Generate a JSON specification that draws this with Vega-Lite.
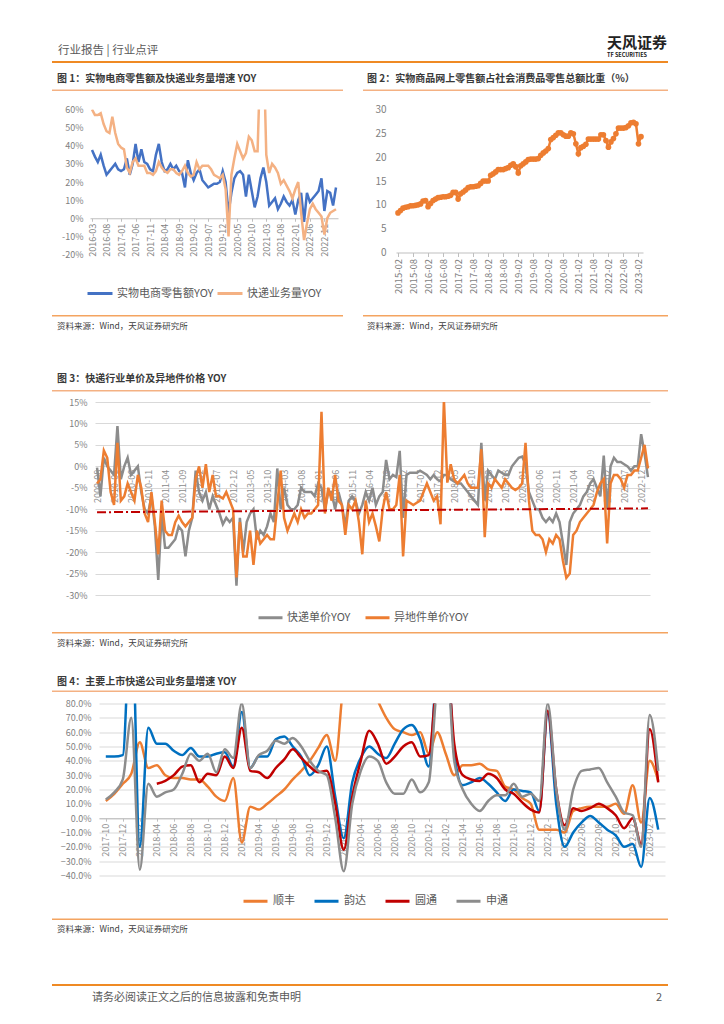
{
"$schema": "https://vega.github.io/schema/vega-lite/v6.json",
"background": "white",
"padding": {"left": 52, "top": 35, "right": 5, "bottom": 5},
"config": {
  "view": {"stroke": null},
  "font": "Noto Sans CJK SC",
  "title": {"font": "Noto Sans CJK SC", "subtitleFont": "Noto Sans CJK SC", "fontWeight": "normal"},
  "axis": {"labelFont": "Noto Sans CJK SC", "labelColor": "#7F7F7F", "labelFontSize": 9},
  "legend": {"labelFont": "Noto Sans CJK SC", "padding": 0}
},
"datasets": {
"c1": [
{"m":"2016-03","ecom":37.6,"exp":60},{"m":"2016-04","ecom":34,"exp":57},{"m":"2016-05","ecom":31,"exp":57},{"m":"2016-06","ecom":35,"exp":58},{"m":"2016-07","ecom":29,"exp":52},{"m":"2016-08","ecom":24,"exp":48},{"m":"2016-09","ecom":26,"exp":47},{"m":"2016-10","ecom":28,"exp":56},{"m":"2016-11","ecom":30,"exp":47},{"m":"2016-12","ecom":27,"exp":41},
{"m":"2017-01","ecom":26,"exp":39},{"m":"2017-02","ecom":27,"exp":38},{"m":"2017-03","ecom":33,"exp":28},{"m":"2017-04","ecom":24,"exp":25},{"m":"2017-05","ecom":30,"exp":31},{"m":"2017-06","ecom":41,"exp":33},{"m":"2017-07","ecom":31,"exp":29},{"m":"2017-08","ecom":38,"exp":29},{"m":"2017-09","ecom":31,"exp":29},{"m":"2017-10","ecom":30,"exp":25},{"m":"2017-11","ecom":27,"exp":25},{"m":"2017-12","ecom":26,"exp":24},
{"m":"2018-01","ecom":35,"exp":26},{"m":"2018-02","ecom":41,"exp":31},{"m":"2018-03","ecom":31,"exp":28},{"m":"2018-04","ecom":26,"exp":26},{"m":"2018-05","ecom":27,"exp":25},{"m":"2018-06","ecom":30,"exp":27},{"m":"2018-07","ecom":27,"exp":27},{"m":"2018-08","ecom":29,"exp":25},{"m":"2018-09","ecom":26,"exp":24},{"m":"2018-10","ecom":25,"exp":26},{"m":"2018-11","ecom":17,"exp":29},{"m":"2018-12","ecom":32,"exp":25},
{"m":"2019-01","ecom":25,"exp":23},{"m":"2019-02","ecom":21,"exp":24},{"m":"2019-03","ecom":25,"exp":31},{"m":"2019-04","ecom":27,"exp":27},{"m":"2019-05","ecom":21,"exp":29},{"m":"2019-06","ecom":19,"exp":29},{"m":"2019-07","ecom":17,"exp":29},{"m":"2019-08","ecom":18,"exp":27},{"m":"2019-09","ecom":19,"exp":24},{"m":"2019-10","ecom":19,"exp":23},{"m":"2019-11","ecom":20,"exp":22},{"m":"2019-12","ecom":26,"exp":24},
{"m":"2020-01","ecom":20,"exp":16},{"m":"2020-02","ecom":3,"exp":-10},{"m":"2020-03","ecom":14,"exp":24},{"m":"2020-04","ecom":22,"exp":33},{"m":"2020-05","ecom":25,"exp":41},{"m":"2020-06","ecom":26,"exp":37},{"m":"2020-07","ecom":24,"exp":33},{"m":"2020-08","ecom":12,"exp":36},{"m":"2020-09","ecom":24,"exp":45},{"m":"2020-10","ecom":15,"exp":43},{"m":"2020-11","ecom":6,"exp":37},{"m":"2020-12","ecom":12,"exp":37},
{"m":"2021-01","ecom":22,"exp":90},{"m":"2021-02","ecom":28,"exp":100},{"m":"2021-03","ecom":20,"exp":35},{"m":"2021-04","ecom":7,"exp":25},{"m":"2021-05","ecom":9,"exp":30},{"m":"2021-06","ecom":11,"exp":28},{"m":"2021-07","ecom":5,"exp":25},{"m":"2021-08","ecom":8,"exp":19},{"m":"2021-09","ecom":12,"exp":21},{"m":"2021-10","ecom":9,"exp":18},{"m":"2021-11","ecom":7,"exp":15},{"m":"2021-12","ecom":10,"exp":11},
{"m":"2022-01","ecom":2,"exp":16},{"m":"2022-02","ecom":10,"exp":20},{"m":"2022-03","ecom":14,"exp":3},{"m":"2022-04","ecom":-2,"exp":-12},{"m":"2022-05","ecom":14,"exp":-3},{"m":"2022-06","ecom":9,"exp":5},{"m":"2022-07","ecom":11,"exp":8},{"m":"2022-08","ecom":13,"exp":5},{"m":"2022-09","ecom":15,"exp":3},{"m":"2022-10","ecom":22,"exp":1},{"m":"2022-11","ecom":4,"exp":-9},{"m":"2022-12","ecom":15,"exp":0},
{"m":"2023-01","ecom":14,"exp":3},{"m":"2023-02","ecom":7,"exp":4},{"m":"2023-03","ecom":17,"exp":5}
],
"c2": [
{"m":"2015-02","v":8.3},{"m":"2015-03","v":8.8},{"m":"2015-04","v":9.3},{"m":"2015-05","v":9.5},{"m":"2015-06","v":9.6},{"m":"2015-07","v":9.8},{"m":"2015-08","v":9.8},{"m":"2015-09","v":9.9},{"m":"2015-10","v":10.0},{"m":"2015-11","v":10.2},{"m":"2015-12","v":10.8},
{"m":"2016-01","v":10.9},{"m":"2016-02","v":9.6},{"m":"2016-03","v":10.3},{"m":"2016-04","v":10.9},{"m":"2016-05","v":11.2},{"m":"2016-06","v":11.5},{"m":"2016-07","v":11.6},{"m":"2016-08","v":11.7},{"m":"2016-09","v":11.7},{"m":"2016-10","v":11.8},{"m":"2016-11","v":12.0},{"m":"2016-12","v":12.6},
{"m":"2017-01","v":12.6},{"m":"2017-02","v":11.2},{"m":"2017-03","v":12.3},{"m":"2017-04","v":12.7},{"m":"2017-05","v":13.1},{"m":"2017-06","v":13.6},{"m":"2017-07","v":13.8},{"m":"2017-08","v":13.8},{"m":"2017-09","v":13.9},{"m":"2017-10","v":14.0},{"m":"2017-11","v":14.5},{"m":"2017-12","v":15.0},
{"m":"2018-01","v":15.0},{"m":"2018-02","v":15.0},{"m":"2018-03","v":16.2},{"m":"2018-04","v":16.5},{"m":"2018-05","v":16.9},{"m":"2018-06","v":17.4},{"m":"2018-07","v":17.4},{"m":"2018-08","v":17.4},{"m":"2018-09","v":17.6},{"m":"2018-10","v":17.8},{"m":"2018-11","v":18.3},{"m":"2018-12","v":18.6},
{"m":"2019-01","v":18.0},{"m":"2019-02","v":16.7},{"m":"2019-03","v":18.2},{"m":"2019-04","v":18.6},{"m":"2019-05","v":19.0},{"m":"2019-06","v":19.5},{"m":"2019-07","v":19.6},{"m":"2019-08","v":19.6},{"m":"2019-09","v":19.6},{"m":"2019-10","v":19.7},{"m":"2019-11","v":20.4},{"m":"2019-12","v":20.9},
{"m":"2020-01","v":21.3},{"m":"2020-02","v":21.8},{"m":"2020-03","v":23.7},{"m":"2020-04","v":24.1},{"m":"2020-05","v":24.6},{"m":"2020-06","v":25.1},{"m":"2020-07","v":25.1},{"m":"2020-08","v":24.7},{"m":"2020-09","v":24.4},{"m":"2020-10","v":24.4},{"m":"2020-11","v":25.1},{"m":"2020-12","v":24.9},
{"m":"2021-01","v":22.8},{"m":"2021-02","v":20.7},{"m":"2021-03","v":22.0},{"m":"2021-04","v":22.3},{"m":"2021-05","v":22.7},{"m":"2021-06","v":23.8},{"m":"2021-07","v":23.8},{"m":"2021-08","v":23.8},{"m":"2021-09","v":23.8},{"m":"2021-10","v":23.8},{"m":"2021-11","v":24.7},{"m":"2021-12","v":24.7},
{"m":"2022-01","v":23.5},{"m":"2022-02","v":22.1},{"m":"2022-03","v":23.2},{"m":"2022-04","v":23.9},{"m":"2022-05","v":24.9},{"m":"2022-06","v":26.1},{"m":"2022-07","v":26.1},{"m":"2022-08","v":26.1},{"m":"2022-09","v":26.2},{"m":"2022-10","v":26.6},{"m":"2022-11","v":27.2},{"m":"2022-12","v":27.3},
{"m":"2023-01","v":27.0},{"m":"2023-02","v":22.8},{"m":"2023-03","v":24.3}
],
"c3": [
{"m":"2009-08","unit":-0.3,"cross":-4},{"m":"2009-09","unit":-7,"cross":-3},{"m":"2009-10","unit":2,"cross":3.7},{"m":"2009-11","unit":0,"cross":2},{"m":"2009-12","unit":-1,"cross":-6},
{"m":"2010-01","unit":-2,"cross":-9},{"m":"2010-02","unit":9.4,"cross":5.5},{"m":"2010-03","unit":-3,"cross":-8},{"m":"2010-04","unit":0,"cross":-7},{"m":"2010-05","unit":2,"cross":-4},{"m":"2010-06","unit":-2,"cross":-6},{"m":"2010-07","unit":-1,"cross":-8},{"m":"2010-08","unit":0,"cross":-2},{"m":"2010-09","unit":-6,"cross":-5},{"m":"2010-10","unit":-10,"cross":-11},{"m":"2010-11","unit":-11,"cross":-13},{"m":"2010-12","unit":-7,"cross":-6},
{"m":"2011-01","unit":-14,"cross":-13},{"m":"2011-02","unit":-26.5,"cross":-20.5},{"m":"2011-03","unit":-11,"cross":-8},{"m":"2011-04","unit":-19,"cross":-15},{"m":"2011-05","unit":-19,"cross":-16},{"m":"2011-06","unit":-18,"cross":-16},{"m":"2011-07","unit":-17,"cross":-13},{"m":"2011-08","unit":-14,"cross":-11.5},{"m":"2011-09","unit":-15,"cross":-13},{"m":"2011-10","unit":-21,"cross":-14},{"m":"2011-11","unit":-15,"cross":-13},{"m":"2011-12","unit":-12,"cross":-12},
{"m":"2012-01","unit":-1,"cross":-3},{"m":"2012-02","unit":-6,"cross":0},{"m":"2012-03","unit":-8,"cross":-5},{"m":"2012-04","unit":-6,"cross":0.5},{"m":"2012-05","unit":-10,"cross":-6},{"m":"2012-06","unit":-7,"cross":-2},{"m":"2012-07","unit":-9,"cross":-7},{"m":"2012-08","unit":-11,"cross":-7},{"m":"2012-09","unit":-13.5,"cross":-7.5},{"m":"2012-10","unit":-12,"cross":-6},{"m":"2012-11","unit":-13,"cross":-8},{"m":"2012-12","unit":-12,"cross":-10},
{"m":"2013-01","unit":-27.8,"cross":-25.9},{"m":"2013-02","unit":-12,"cross":-13},{"m":"2013-03","unit":-20,"cross":-21},{"m":"2013-04","unit":-13,"cross":-21},{"m":"2013-05","unit":-11,"cross":-15},{"m":"2013-06","unit":-10,"cross":-23},{"m":"2013-07","unit":-17,"cross":-15},{"m":"2013-08","unit":-15,"cross":-18},{"m":"2013-09","unit":-16,"cross":-17},{"m":"2013-10","unit":-14,"cross":-16},{"m":"2013-11","unit":-11,"cross":-17},{"m":"2013-12","unit":-13,"cross":-17},
{"m":"2014-01","unit":-0.5,"cross":-9},{"m":"2014-02","unit":-10,"cross":-1},{"m":"2014-03","unit":-5,"cross":-12},{"m":"2014-04","unit":-9,"cross":-15},{"m":"2014-05","unit":-10,"cross":-13},{"m":"2014-06","unit":-10,"cross":-11},{"m":"2014-07","unit":-9,"cross":-13},{"m":"2014-08","unit":-5,"cross":-10},{"m":"2014-09","unit":-6,"cross":-12},{"m":"2014-10","unit":-6,"cross":-11},{"m":"2014-11","unit":-6,"cross":-11},{"m":"2014-12","unit":-7,"cross":-10},
{"m":"2015-01","unit":-4,"cross":-9},{"m":"2015-02","unit":-5,"cross":12.7},{"m":"2015-03","unit":-10,"cross":-11},{"m":"2015-04","unit":-6,"cross":-5},{"m":"2015-05","unit":-6,"cross":-8},{"m":"2015-06","unit":-10,"cross":-2},{"m":"2015-07","unit":-6,"cross":-8},{"m":"2015-08","unit":-9,"cross":-9},{"m":"2015-09","unit":-14,"cross":-16},{"m":"2015-10","unit":-8,"cross":-9},{"m":"2015-11","unit":-7,"cross":-10},{"m":"2015-12","unit":-8,"cross":-8},
{"m":"2016-01","unit":-11,"cross":-13},{"m":"2016-02","unit":-9,"cross":-20.5},{"m":"2016-03","unit":-6,"cross":-8},{"m":"2016-04","unit":-8,"cross":-13},{"m":"2016-05","unit":-5,"cross":-11},{"m":"2016-06","unit":-9,"cross":-14},{"m":"2016-07","unit":-7,"cross":-17.5},{"m":"2016-08","unit":-6,"cross":-10},{"m":"2016-09","unit":1.5,"cross":-6},{"m":"2016-10","unit":-3,"cross":-10},{"m":"2016-11","unit":-2,"cross":-10},{"m":"2016-12","unit":-2.5,"cross":-9},
{"m":"2017-01","unit":3.6,"cross":-2},{"m":"2017-02","unit":-12,"cross":-21},{"m":"2017-03","unit":-2,"cross":-8},{"m":"2017-04","unit":-1.5,"cross":-8.5},{"m":"2017-05","unit":-1.5,"cross":-9},{"m":"2017-06","unit":-1.5,"cross":-8.5},{"m":"2017-07","unit":-1,"cross":-8},{"m":"2017-08","unit":-1.5,"cross":-6},{"m":"2017-09","unit":-2,"cross":-4},{"m":"2017-10","unit":-3,"cross":-6},{"m":"2017-11","unit":-2,"cross":-8},{"m":"2017-12","unit":-3,"cross":-7},
{"m":"2018-01","unit":-3.5,"cross":-13.5},{"m":"2018-02","unit":-2,"cross":15.5},{"m":"2018-03","unit":-2,"cross":-3.8},{"m":"2018-04","unit":-3,"cross":0.5},{"m":"2018-05","unit":-3.5,"cross":-3},{"m":"2018-06","unit":-4,"cross":-4},{"m":"2018-07","unit":-4,"cross":-3},{"m":"2018-08","unit":-5,"cross":-2},{"m":"2018-09","unit":-6,"cross":-4},{"m":"2018-10","unit":-7,"cross":-5},{"m":"2018-11","unit":-8,"cross":-5},{"m":"2018-12","unit":-9,"cross":-5},
{"m":"2019-01","unit":5.5,"cross":4},{"m":"2019-02","unit":-8,"cross":-16.5},{"m":"2019-03","unit":-1,"cross":-4},{"m":"2019-04","unit":-2,"cross":-5},{"m":"2019-05","unit":-3,"cross":-3},{"m":"2019-06","unit":-1,"cross":-4},{"m":"2019-07","unit":-1.5,"cross":-5},{"m":"2019-08","unit":-2,"cross":-3},{"m":"2019-09","unit":-2,"cross":-4},{"m":"2019-10","unit":0,"cross":-5},{"m":"2019-11","unit":1,"cross":-5.5},{"m":"2019-12","unit":2,"cross":-5},
{"m":"2020-01","unit":2.3,"cross":-4},{"m":"2020-02","unit":0.5,"cross":5.5},{"m":"2020-03","unit":-6,"cross":-8},{"m":"2020-04","unit":-8,"cross":-15},{"m":"2020-05","unit":-10,"cross":-16},{"m":"2020-06","unit":-10,"cross":-16},{"m":"2020-07","unit":-12,"cross":-17},{"m":"2020-08","unit":-13,"cross":-20},{"m":"2020-09","unit":-12,"cross":-17},{"m":"2020-10","unit":-13,"cross":-18},{"m":"2020-11","unit":-11,"cross":-16},{"m":"2020-12","unit":-13,"cross":-17},
{"m":"2021-01","unit":-18,"cross":-22},{"m":"2021-02","unit":-23,"cross":-26},{"m":"2021-03","unit":-13,"cross":-25},{"m":"2021-04","unit":-11,"cross":-16},{"m":"2021-05","unit":-10,"cross":-15},{"m":"2021-06","unit":-9,"cross":-13},{"m":"2021-07","unit":-7,"cross":-12},{"m":"2021-08","unit":-6,"cross":-11},{"m":"2021-09","unit":-4,"cross":-10},{"m":"2021-10","unit":-3,"cross":-9},{"m":"2021-11","unit":-5,"cross":-6},{"m":"2021-12","unit":-7,"cross":-4},
{"m":"2022-01","unit":2.5,"cross":-3},{"m":"2022-02","unit":-10,"cross":-18},{"m":"2022-03","unit":0,"cross":-4},{"m":"2022-04","unit":2,"cross":-2},{"m":"2022-05","unit":1,"cross":-2},{"m":"2022-06","unit":1,"cross":-3},{"m":"2022-07","unit":0.5,"cross":-5},{"m":"2022-08","unit":0,"cross":-2},{"m":"2022-09","unit":-1,"cross":-2},{"m":"2022-10","unit":0,"cross":-1},{"m":"2022-11","unit":0,"cross":-1},{"m":"2022-12","unit":7.5,"cross":2},
{"m":"2023-01","unit":3,"cross":5},{"m":"2023-02","unit":-2.5,"cross":-0.5}
],
"c3t": [{"m":"2009-08","v":-10.7},{"m":"2023-02","v":-9.8}],
"c4": [
{"m":"2017-10","sf":12,"yd":43,"yt":null,"sto":13},{"m":"2017-11","sf":17,"yd":43,"yt":null,"sto":18},{"m":"2017-12","sf":24,"yd":44,"yt":null,"sto":27},
{"m":"2018-01","sf":31,"yd":150,"yt":null,"sto":70},{"m":"2018-02","sf":53,"yd":-20,"yt":null,"sto":-36},{"m":"2018-03","sf":35,"yd":63,"yt":null,"sto":24},{"m":"2018-04","sf":37,"yd":52,"yt":24,"sto":15},{"m":"2018-05","sf":30,"yd":52,"yt":26,"sto":18},{"m":"2018-06","sf":28,"yd":47,"yt":30,"sto":20},{"m":"2018-07","sf":28,"yd":44,"yt":36,"sto":31},{"m":"2018-08","sf":27,"yd":49,"yt":37,"sto":45},{"m":"2018-09","sf":27,"yd":43,"yt":25,"sto":40},{"m":"2018-10","sf":22,"yd":43,"yt":31,"sto":45},{"m":"2018-11","sf":15,"yd":45,"yt":30,"sto":32},{"m":"2018-12","sf":12,"yd":46,"yt":43,"sto":48},
{"m":"2019-01","sf":28,"yd":36,"yt":35,"sto":42},{"m":"2019-02","sf":-17,"yd":74,"yt":63,"sto":80},{"m":"2019-03","sf":8,"yd":35,"yt":33,"sto":35},{"m":"2019-04","sf":6,"yd":43,"yt":32,"sto":44},{"m":"2019-05","sf":10,"yd":43,"yt":28,"sto":47},{"m":"2019-06","sf":15,"yd":55,"yt":35,"sto":54},{"m":"2019-07","sf":20,"yd":57,"yt":41,"sto":52},{"m":"2019-08","sf":27,"yd":50,"yt":48,"sto":56},{"m":"2019-09","sf":33,"yd":43,"yt":42,"sto":50},{"m":"2019-10","sf":40,"yd":30,"yt":36,"sto":40},{"m":"2019-11","sf":49,"yd":37,"yt":32,"sto":33},{"m":"2019-12","sf":58,"yd":50,"yt":33,"sto":30},
{"m":"2020-01","sf":40,"yd":15,"yt":10,"sto":0},{"m":"2020-02","sf":95,"yd":-14,"yt":-22,"sto":-37},{"m":"2020-03","sf":110,"yd":25,"yt":15,"sto":10},{"m":"2020-04","sf":105,"yd":42,"yt":40,"sto":33},{"m":"2020-05","sf":95,"yd":50,"yt":61,"sto":43},{"m":"2020-06","sf":82,"yd":45,"yt":52,"sto":40},{"m":"2020-07","sf":70,"yd":42,"yt":38,"sto":25},{"m":"2020-08","sf":62,"yd":52,"yt":43,"sto":17},{"m":"2020-09","sf":60,"yd":62,"yt":50,"sto":17},{"m":"2020-10","sf":58,"yd":65,"yt":53,"sto":27},{"m":"2020-11","sf":60,"yd":55,"yt":43,"sto":18},{"m":"2020-12","sf":45,"yd":36,"yt":44,"sto":25},
{"m":"2021-01","sf":60,"yd":110,"yt":100,"sto":95},{"m":"2021-02","sf":45,"yd":130,"yt":120,"sto":120},{"m":"2021-03","sf":30,"yd":45,"yt":52,"sto":40},{"m":"2021-04","sf":37,"yd":23,"yt":30,"sto":20},{"m":"2021-05","sf":37,"yd":25,"yt":27,"sto":10},{"m":"2021-06","sf":38,"yd":28,"yt":26,"sto":5},{"m":"2021-07","sf":34,"yd":24,"yt":31,"sto":12},{"m":"2021-08","sf":33,"yd":18,"yt":28,"sto":16},{"m":"2021-09","sf":22,"yd":12,"yt":20,"sto":16},{"m":"2021-10","sf":20,"yd":20,"yt":17,"sto":24},{"m":"2021-11","sf":14,"yd":19,"yt":11,"sto":15},{"m":"2021-12","sf":10,"yd":18,"yt":6,"sto":17},
{"m":"2022-01","sf":-8,"yd":5,"yt":4,"sto":12},{"m":"2022-02","sf":-8,"yd":73,"yt":75,"sto":80},{"m":"2022-03","sf":-8,"yd":10,"yt":20,"sto":20},{"m":"2022-04","sf":-10,"yd":-20,"yt":-5,"sto":-8},{"m":"2022-05","sf":5,"yd":-10,"yt":7,"sto":20},{"m":"2022-06","sf":7,"yd":-3,"yt":5,"sto":33},{"m":"2022-07","sf":8,"yd":1.5,"yt":7,"sto":34},{"m":"2022-08","sf":8,"yd":-3,"yt":10,"sto":35},{"m":"2022-09","sf":8,"yd":-8,"yt":7,"sto":25},{"m":"2022-10","sf":10,"yd":-12,"yt":2,"sto":15},{"m":"2022-11","sf":3,"yd":-20,"yt":-7,"sto":4},{"m":"2022-12","sf":23,"yd":-18,"yt":0,"sto":2},
{"m":"2023-01","sf":-3,"yd":-34,"yt":-18,"sto":-20},{"m":"2023-02","sf":40,"yd":14,"yt":62,"sto":72},{"m":"2023-03","sf":26,"yd":-8,"yt":25,"sto":33}
]
},
"resolve": {"scale": {"color": "independent"}, "legend": {"color": "independent"}},
"columns": 1,
"align": "none",
"spacing": 10.5,
"concat": [
  {"hconcat": [
    {"width": 555, "height": 2, "view": {"fill": "#EF8A24", "stroke": null}, "data": {"values": []}, "mark": {"type": "text", "text": ""},
     "title": {"text": "行业报告 | 行业点评", "anchor": "start", "orient": "top", "fontSize": 11.5, "color": "#595959", "offset": 5, "dx": 6}},
    {"width": 61, "height": 2, "view": {"fill": "#EF8A24", "stroke": null}, "data": {"values": []}, "mark": {"type": "text", "text": ""},
     "title": {"text": "天风证券", "subtitle": "TF SECURITIES", "anchor": "start", "orient": "top", "fontSize": 15, "fontWeight": "bold", "color": "#222222", "subtitleFontSize": 5.5, "subtitleFontWeight": "bold", "subtitleColor": "#222222", "subtitlePadding": 2, "offset": 3}}
  ], "spacing": 0, "bounds": "flush"},
  {"concat": [
    {"hconcat": [
      {"width": 291, "height": 1.5, "view": {"fill": "#F4B183", "stroke": null}, "data": {"values": []}, "mark": {"type": "text", "text": ""},
       "title": {"text": "图 1：实物电商零售额及快递业务量增速 YOY", "anchor": "start", "orient": "top", "fontSize": 10, "fontWeight": "bold", "color": "#3A3A3A", "offset": 6, "dx": 5}},
      {"width": 305, "height": 1.5, "view": {"fill": "#F4B183", "stroke": null}, "data": {"values": []}, "mark": {"type": "text", "text": ""},
       "title": {"text": "图 2：实物商品网上零售额占社会消费品零售总额比重（%）", "anchor": "start", "orient": "top", "fontSize": 10, "fontWeight": "bold", "color": "#3A3A3A", "offset": 6, "dx": 4}}
    ], "spacing": 20, "bounds": "flush"},
    {"concat": [
      {"hconcat": [
        {"hconcat": [
          {"width": 0.001, "height": 0.001, "data": {"values": []}, "mark": {"type": "text", "text": ""}},
          {"width": 248, "height": 145,
           "data": {"name": "c1"},
           "transform": [{"fold": ["ecom", "exp"], "as": ["s", "v"]}],
           "mark": {"type": "line", "strokeWidth": 2.5, "clip": true},
           "encoding": {
             "x": {"field": "m", "type": "ordinal", "scale": {"type": "point", "padding": 0.69},
                   "axis": {"title": null, "values": ["2016-03","2016-08","2017-01","2017-06","2017-11","2018-04","2018-09","2019-02","2019-07","2019-12","2020-05","2020-10","2021-03","2021-08","2022-01","2022-06","2022-11"],
                            "labelAngle": -90, "offset": -36.25, "domainColor": "#BFBFBF", "tickColor": "#BFBFBF", "tickSize": 3, "labelPadding": 2, "labelFontSize": 9, "grid": false, "labelOverlap": false}},
             "y": {"field": "v", "type": "quantitative", "scale": {"domain": [-20, 60], "nice": false},
                   "axis": {"title": null, "values": [-20,-10,0,10,20,30,40,50,60], "labelExpr": "datum.value + '%'", "domain": false, "ticks": false, "grid": false, "labelPadding": 7, "minExtent": 37, "maxExtent": 37, "labelFontSize": 9}},
             "color": {"field": "s", "type": "nominal", "scale": {"domain": ["ecom", "exp"], "range": ["#4472C4", "#F4B183"]},
                   "legend": {"title": null, "orient": "none", "legendX": 34, "legendY": 170, "direction": "horizontal", "columns": 2, "symbolType": "stroke", "symbolStrokeWidth": 3, "symbolSize": 625, "labelFontSize": 11, "labelColor": "#595959", "labelOffset": 3, "columnPadding": -3, "labelLimit": 300,
                              "labelExpr": "datum.value == 'ecom' ? '实物电商零售额YOY' : '快递业务量YOY'"}}
           }}
        ], "spacing": 0},
        {"width": 247, "height": 143,
         "data": {"name": "c2"},
         "mark": {"type": "line", "color": "#ED7D31", "strokeWidth": 2.5, "point": {"filled": true, "size": 32, "color": "#ED7D31"}},
         "encoding": {
           "x": {"field": "m", "type": "ordinal", "scale": {"type": "point", "padding": 0.8},
                 "axis": {"title": null, "values": ["2015-02","2015-08","2016-02","2016-08","2017-02","2017-08","2018-02","2018-08","2019-02","2019-08","2020-02","2020-08","2021-02","2021-08","2022-02","2022-08","2023-02"],
                          "labelAngle": -90, "domainColor": "#BFBFBF", "tickColor": "#BFBFBF", "tickSize": 4, "labelPadding": 2, "labelFontSize": 9.5, "grid": false, "labelOverlap": false}},
           "y": {"field": "v", "type": "quantitative", "scale": {"domain": [0, 30], "nice": false},
                 "axis": {"title": null, "values": [0,5,10,15,20,25,30], "domain": false, "ticks": false, "grid": false, "labelPadding": 10, "minExtent": 36, "maxExtent": 36, "labelFontSize": 10}}
         }}
      ], "spacing": 22, "resolve": {"scale": {"color": "independent"}, "legend": {"color": "independent"}}},
      {"hconcat": [
        {"width": 291, "height": 1.5, "view": {"fill": "#F4A460", "stroke": null}, "data": {"values": []}, "mark": {"type": "text", "text": ""},
         "title": {"text": "资料来源：Wind，天风证券研究所", "subtitle": " ", "subtitleFontSize": 8, "subtitlePadding": 25.5, "anchor": "start", "orient": "bottom", "fontSize": 8.5, "color": "#404040", "offset": 5, "dx": 5}},
        {"width": 305, "height": 1.5, "view": {"fill": "#F4A460", "stroke": null}, "data": {"values": []}, "mark": {"type": "text", "text": ""},
         "title": {"text": "资料来源：Wind，天风证券研究所", "anchor": "start", "orient": "bottom", "fontSize": 8.5, "color": "#404040", "offset": 5, "dx": 4}}
      ], "spacing": 20, "bounds": "flush"}
    ], "columns": 1, "align": "none", "spacing": 15.5, "resolve": {"scale": {"color": "independent"}, "legend": {"color": "independent"}}}
  ], "columns": 1, "align": "none", "spacing": 13, "resolve": {"scale": {"color": "independent"}, "legend": {"color": "independent"}}},
  {"concat": [
    {"width": 616, "height": 1.5, "view": {"fill": "#F4B183", "stroke": null}, "data": {"values": []}, "mark": {"type": "text", "text": ""},
     "title": {"text": "图 3：快递行业单价及异地件价格 YOY", "anchor": "start", "orient": "top", "fontSize": 10, "fontWeight": "bold", "color": "#3A3A3A", "offset": 6, "dx": 5}},
    {"concat": [
      {"hconcat": [
        {"width": 0.001, "height": 0.001, "data": {"values": []}, "mark": {"type": "text", "text": ""}},
        {"width": 555, "height": 193,
         "encoding": {
           "x": {"field": "m", "type": "ordinal", "scale": {"type": "point", "padding": 0.6},
                 "axis": {"title": null, "values": ["2009-08","2010-01","2010-06","2010-11","2011-04","2011-09","2012-02","2012-07","2012-12","2013-05","2013-10","2014-03","2014-08","2015-01","2015-06","2015-11","2016-04","2016-09","2017-02","2017-07","2017-12","2018-05","2018-10","2019-03","2019-08","2020-01","2020-06","2020-11","2021-04","2021-09","2022-02","2022-07","2022-12"],
                          "labelAngle": -90, "offset": -128.67, "domain": false, "ticks": false, "labelPadding": 3, "labelFontSize": 9, "grid": false, "labelOverlap": false, "labelColor": "#8C8C8C"}},
           "y": {"field": "v", "type": "quantitative", "scale": {"domain": [-30, 15], "nice": false},
                 "axis": {"title": null, "values": [-30,-25,-20,-15,-10,-5,0,5,10,15], "labelExpr": "datum.value + '%'", "domain": false, "ticks": false, "grid": true, "gridColor": "#D9D9D9", "gridWidth": 1, "labelPadding": 8, "minExtent": 42, "maxExtent": 42, "labelFontSize": 9}}
         },
         "layer": [
           {"data": {"name": "c3"},
            "transform": [{"fold": ["unit", "cross"], "as": ["s", "v"]}],
            "mark": {"type": "line", "strokeWidth": 2.5, "clip": true},
            "encoding": {
              "color": {"field": "s", "type": "nominal", "scale": {"domain": ["unit", "cross"], "range": ["#8C8C8C", "#ED7D31"]},
                    "legend": {"title": null, "orient": "none", "legendX": 205, "legendY": 202, "direction": "horizontal", "columns": 2, "symbolType": "stroke", "symbolStrokeWidth": 3, "symbolSize": 576, "labelFontSize": 11, "labelColor": "#595959", "labelOffset": 3, "columnPadding": 8, "labelLimit": 300,
                               "labelExpr": "datum.value == 'unit' ? '快递单价YOY' : '异地件单价YOY'"}}
            }},
           {"data": {"name": "c3t"},
            "mark": {"type": "line", "color": "#C00000", "strokeWidth": 2, "strokeDash": [9, 3, 2, 3]}}
         ]}
      ], "spacing": 0},
      {"width": 616, "height": 1.5, "view": {"fill": "#F4A460", "stroke": null}, "data": {"values": []}, "mark": {"type": "text", "text": ""},
       "title": {"text": "资料来源：Wind，天风证券研究所", "subtitle": " ", "subtitleFontSize": 8, "subtitlePadding": 10.5, "anchor": "start", "orient": "bottom", "fontSize": 8.5, "color": "#404040", "offset": 5, "dx": 5}}
    ], "columns": 1, "align": "none", "spacing": 8, "resolve": {"scale": {"color": "independent"}, "legend": {"color": "independent"}}}
  ], "columns": 1, "align": "none", "spacing": 6, "resolve": {"scale": {"color": "independent"}, "legend": {"color": "independent"}}},
  {"concat": [
    {"width": 616, "height": 1.5, "view": {"fill": "#F4B183", "stroke": null}, "data": {"values": []}, "mark": {"type": "text", "text": ""},
     "title": {"text": "图 4：主要上市快递公司业务量增速 YOY", "anchor": "start", "orient": "top", "fontSize": 10, "fontWeight": "bold", "color": "#3A3A3A", "offset": 4, "dx": 5}},
    {"concat": [
      {"hconcat": [
        {"width": 0.001, "height": 0.001, "data": {"values": []}, "mark": {"type": "text", "text": ""}},
        {"width": 566, "height": 172,
         "data": {"name": "c4"},
         "transform": [{"fold": ["sf", "yd", "yt", "sto"], "as": ["s", "v"]}],
         "mark": {"type": "line", "strokeWidth": 2.5, "interpolate": "monotone", "clip": true},
         "encoding": {
           "x": {"field": "m", "type": "ordinal", "scale": {"type": "point", "padding": 0.8},
                 "axis": {"title": null, "values": ["2017-10","2017-12","2018-02","2018-04","2018-06","2018-08","2018-10","2018-12","2019-02","2019-04","2019-06","2019-08","2019-10","2019-12","2020-02","2020-04","2020-06","2020-08","2020-10","2020-12","2021-02","2021-04","2021-06","2021-08","2021-10","2021-12","2022-02","2022-04","2022-06","2022-08","2022-10","2022-12","2023-02"],
                          "labelAngle": -90, "offset": -57.33, "domainColor": "#BFBFBF", "tickColor": "#BFBFBF", "tickSize": 3, "labelPadding": 2, "labelFontSize": 9, "grid": false, "labelOverlap": false, "labelColor": "#8C8C8C"}},
           "y": {"field": "v", "type": "quantitative", "scale": {"domain": [-40, 80], "nice": false},
                 "axis": {"title": null, "values": [-40,-30,-20,-10,0,10,20,30,40,50,60,70,80], "labelExpr": "format(datum.value, '.1f') + '%'", "domain": false, "ticks": false, "grid": true, "gridColor": "#D9D9D9", "gridWidth": 1, "labelPadding": 8, "minExtent": 46, "maxExtent": 46, "labelFontSize": 9}},
           "color": {"field": "s", "type": "nominal", "scale": {"domain": ["sf", "yd", "yt", "sto"], "range": ["#ED7D31", "#0070C0", "#C00000", "#8C8C8C"]},
                 "legend": {"title": null, "orient": "none", "legendX": 190, "legendY": 184, "direction": "horizontal", "columns": 4, "symbolType": "stroke", "symbolStrokeWidth": 3, "symbolSize": 576, "labelFontSize": 11, "labelColor": "#595959", "labelOffset": 4, "columnPadding": 13, "labelLimit": 300,
                            "labelExpr": "datum.value == 'sf' ? '顺丰' : datum.value == 'yd' ? '韵达' : datum.value == 'yt' ? '圆通' : '申通'"}}
         }}
      ], "spacing": 0},
      {"width": 616, "height": 1.5, "view": {"fill": "#F4A460", "stroke": null}, "data": {"values": []}, "mark": {"type": "text", "text": ""},
       "title": {"text": "资料来源：Wind，天风证券研究所", "subtitle": " ", "subtitleFontSize": 8, "subtitlePadding": 31.5, "anchor": "start", "orient": "bottom", "fontSize": 8.5, "color": "#404040", "offset": 5, "dx": 5}}
    ], "columns": 1, "align": "none", "spacing": 11, "resolve": {"scale": {"color": "independent"}, "legend": {"color": "independent"}}}
  ], "columns": 1, "align": "none", "spacing": 7, "resolve": {"scale": {"color": "independent"}, "legend": {"color": "independent"}}},
  {"hconcat": [
    {"width": 555, "height": 2, "view": {"fill": "#EF8A24", "stroke": null}, "data": {"values": []}, "mark": {"type": "text", "text": ""},
     "title": {"text": "请务必阅读正文之后的信息披露和免责申明", "anchor": "start", "orient": "bottom", "fontSize": 11, "color": "#595959", "offset": 6, "dx": 40}},
    {"width": 61, "height": 2, "view": {"fill": "#EF8A24", "stroke": null}, "data": {"values": []}, "mark": {"type": "text", "text": ""},
     "title": {"text": "2", "anchor": "end", "orient": "bottom", "fontSize": 11, "color": "#595959", "offset": 6, "dx": -6}}
  ], "spacing": 0, "bounds": "flush"}
]
}
